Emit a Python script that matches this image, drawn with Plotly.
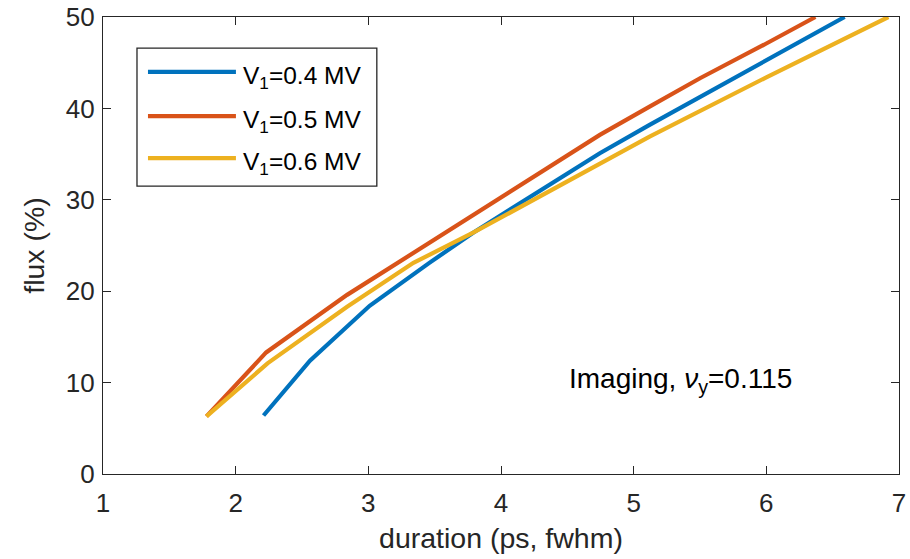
import plotly.graph_objects as go

# Data
series_names = ["V<sub>1</sub>=0.4 MV", "V<sub>1</sub>=0.5 MV", "V<sub>1</sub>=0.6 MV"]
series_colors = ["#0072BD", "#D95319", "#EDB120"]

dur_04 = [2.21, 2.56, 3.01, 3.46, 3.79, 4.745, 5.12, 5.53, 6.0, 6.59]
flux_04 = [6.4, 12.4, 18.4, 23.1, 26.4, 35.1, 38.2, 41.5, 45.3, 50.0]

dur_05 = [1.78, 2.23, 2.84, 3.46, 4.0, 4.745, 5.12, 5.5, 6.0, 6.37]
flux_05 = [6.3, 13.3, 19.6, 25.3, 30.2, 37.1, 40.2, 43.3, 47.1, 50.0]

dur_06 = [1.78, 2.24, 2.84, 3.34, 3.79, 4.745, 5.12, 6.0, 6.92]
flux_06 = [6.3, 12.1, 18.3, 23.1, 26.4, 34.0, 36.9, 43.4, 50.0]

x_ticks = [1, 2, 3, 4, 5, 6, 7]
y_ticks = [0, 10, 20, 30, 40, 50]

xs = [dur_04, dur_05, dur_06]
ys = [flux_04, flux_05, flux_06]

FONT = "Liberation Sans, Arial, Helvetica, sans-serif"
AX = "#262626"

fig = go.Figure()
for name, col, x, y in zip(series_names, series_colors, xs, ys):
    fig.add_trace(go.Scatter(x=x, y=y, mode="lines", name=name,
                             line=dict(color=col, width=4.2), showlegend=False))

# custom legend box (paper coordinates)
shapes = [dict(type="rect", xref="paper", yref="paper", x0=0.0427, x1=0.344,
               y0=0.630, y1=0.932, line=dict(color=AX, width=1.3),
               fillcolor="white", layer="above")]
annos = []
leg_y = [0.880, 0.783, 0.691]
for name, col, yy in zip(series_names, series_colors, leg_y):
    shapes.append(dict(type="line", xref="paper", yref="paper", x0=0.0565, x1=0.167,
                       y0=yy, y1=yy, line=dict(color=col, width=4.2), layer="above"))
    annos.append(dict(xref="paper", yref="paper", x=0.173, y=yy - 0.012, text=name,
                      showarrow=False, xanchor="left", yanchor="middle",
                      font=dict(family=FONT, size=24.5, color="black")))

annos.append(dict(x=4.5, y=10.2, text="Imaging, <i>ν</i><sub>y</sub>=0.115",
                  showarrow=False, xanchor="left", yanchor="middle",
                  font=dict(family=FONT, size=28, color="black")))

fig.update_layout(
    width=910, height=559,
    margin=dict(l=103, r=11, t=17, b=85, autoexpand=False),
    paper_bgcolor="white", plot_bgcolor="white",
    font=dict(family=FONT, color=AX),
    shapes=shapes, annotations=annos,
)
fig.update_xaxes(range=[1, 7], tickvals=x_ticks, ticks="inside", ticklen=8,
                 tickcolor=AX, tickwidth=1.3, showline=True, linecolor=AX, linewidth=1.3,
                 mirror="ticks", showgrid=False, zeroline=False, automargin=False,
                 tickfont=dict(size=26, color=AX), ticklabelstandoff=6,
                 title=dict(text="duration (ps, fwhm)", font=dict(size=28.5, color=AX), standoff=10))
fig.update_yaxes(range=[0, 50], tickvals=y_ticks, ticks="inside", ticklen=8,
                 tickcolor=AX, tickwidth=1.3, showline=True, linecolor=AX, linewidth=1.3,
                 mirror="ticks", showgrid=False, zeroline=False, automargin=False,
                 tickfont=dict(size=26, color=AX), ticklabelstandoff=2,
                 title=dict(text="flux (%)", font=dict(size=28.5, color=AX), standoff=12))

fig.write_html("out.html")
